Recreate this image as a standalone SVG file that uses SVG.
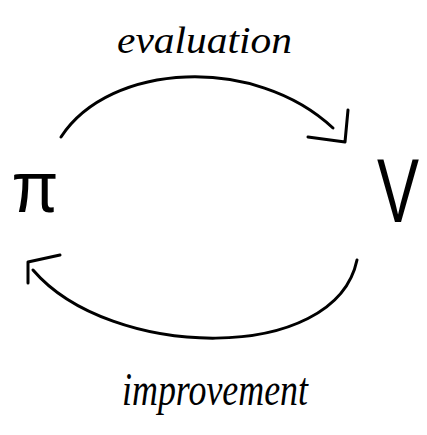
<svg xmlns="http://www.w3.org/2000/svg" width="427" height="435" viewBox="0 0 427 435">
<style>
.s{fill:none;stroke:#000;stroke-width:3;stroke-linecap:round;stroke-linejoin:round}
.t{font-family:"Liberation Serif",serif;font-style:italic;fill:#000}
.n{font-family:"Liberation Sans","DejaVu Sans",sans-serif;fill:#000;text-anchor:middle}
</style>
<rect width="427" height="435" fill="#fff"/>
<g id="pi">
<text class="n" x="35" y="212" font-size="72" textLength="47" lengthAdjust="spacingAndGlyphs">π</text>
</g>
<g id="V">
<text class="n" transform="translate(398,222) scale(1,1.43)" x="0" y="0" font-size="63">V</text>
</g>
<g id="connectors">
<path class="s" d="M61,137 C110,62 255,55 333,128"/>
<path class="s" d="M308,137 L345,142 L348,110"/>
<path class="s" d="M357,260 C335,365 110,360 33,270"/>
<path class="s" d="M60,255 L28,262 L28,283"/>
<text class="t" x="117" y="53" font-size="38" textLength="175" lengthAdjust="spacingAndGlyphs">evaluation</text>
<text class="t" x="122" y="405" font-size="46" textLength="186" lengthAdjust="spacingAndGlyphs">improvement</text>
</g>
</svg>
